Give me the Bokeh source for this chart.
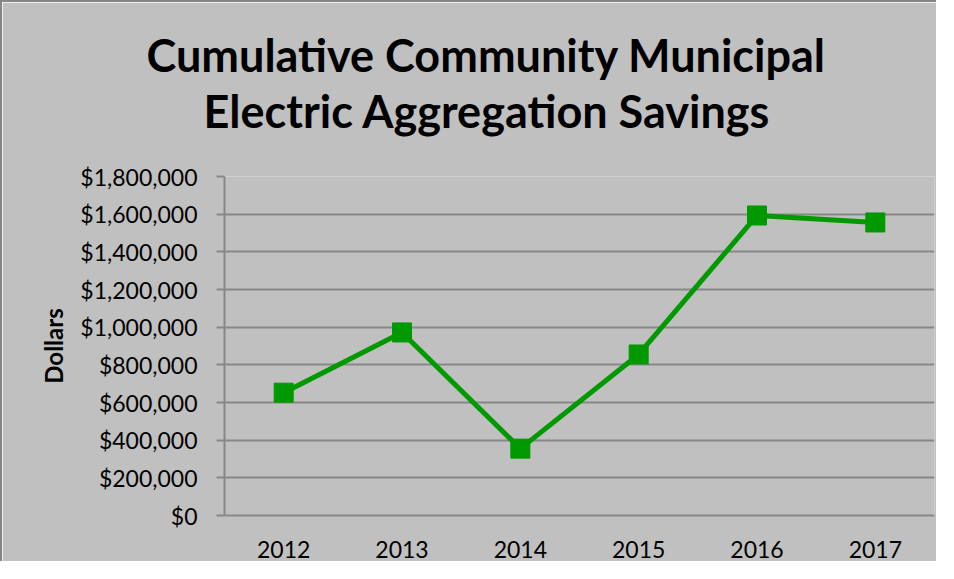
from bokeh.plotting import figure
from bokeh.models import FactorRange, Range1d, NumeralTickFormatter, Title, FixedTicker
from bokeh.embed import file_html
from bokeh.resources import INLINE

years = ["2012", "2013", "2014", "2015", "2016", "2017"]
savings = [652000, 972000, 355000, 855000, 1593000, 1556000]
y_ticks = [0, 200000, 400000, 600000, 800000, 1000000, 1200000, 1400000, 1600000, 1800000]
title_lines = ["Cumulative Community Municipal", "Electric Aggregation Savings"]

BG = "#c0c0c0"
GRID = "#878787"
GREEN = "#009900"

p = figure(width=936, height=561, x_range=FactorRange(*years, range_padding=0),
           y_range=Range1d(0, 1800000), output_backend="svg", toolbar_location=None,
           min_border_left=222, min_border_top=174, min_border_right=4, min_border_bottom=48)
p.styles = {"border-left": "2px solid #868686", "border-top": "2px solid #868686"}
p.background_fill_color = BG
p.border_fill_color = BG
p.outline_line_color = None

p.line(years, savings, line_color=GREEN, line_width=5)
p.scatter(years, savings, marker="square", size=19, fill_color=GREEN, line_color=GREEN)

p.yaxis.ticker = FixedTicker(ticks=y_ticks)
p.yaxis.formatter = NumeralTickFormatter(format="$0,0")
p.yaxis.axis_label = "Dollars"
p.yaxis.axis_label_text_font = "Lato"
p.yaxis.axis_label_text_font_style = "bold"
p.yaxis.axis_label_text_font_size = "24px"
p.yaxis.axis_label_text_color = "black"
p.yaxis.axis_label_standoff = 9
p.yaxis.major_tick_out = 8
p.yaxis.major_tick_in = 0
p.yaxis.minor_tick_out = 0
p.yaxis.minor_tick_in = 0
p.yaxis.major_label_standoff = 19

for ax in (p.xaxis[0], p.yaxis[0]):
    ax.axis_line_color = GRID
    ax.axis_line_width = 2
    ax.major_tick_line_color = GRID
    ax.major_tick_line_width = 2
    ax.major_label_text_font = "Lato"
    ax.major_label_text_font_size = "23px"
    ax.major_label_text_color = "black"

p.xaxis.major_tick_out = 0
p.xaxis.major_tick_in = 0
p.xaxis.major_label_standoff = 25

p.xgrid.grid_line_color = None
p.ygrid.grid_line_color = GRID
p.ygrid.grid_line_width = 2
p.ygrid.ticker = FixedTicker(ticks=y_ticks)

# nearest to the frame first
for txt, so, off in zip(reversed(title_lines), [77, -77], [-21, -78]):
    p.add_layout(Title(text=txt, align="left", offset=off, standoff=so,
                       text_font="Lato", text_font_style="bold", text_font_size="45px",
                       text_color="black"), "above")

open("out.html", "w").write(file_html(p, INLINE))
